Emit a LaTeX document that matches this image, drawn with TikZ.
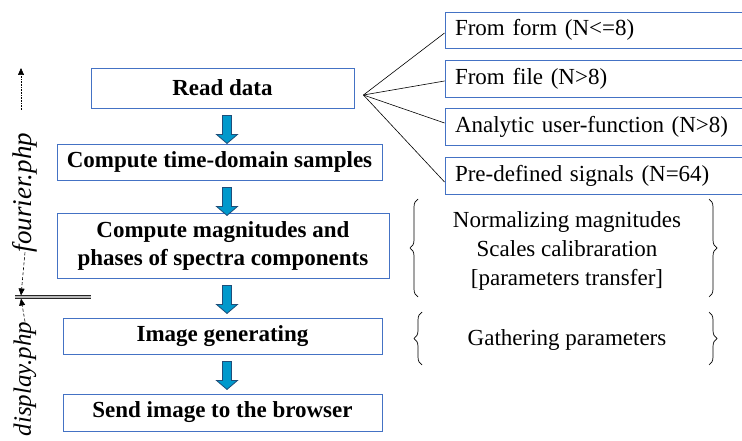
\documentclass[tikz,border=0pt]{standalone}
\usepackage{fontspec}
\setmainfont{Liberation Serif}
\usetikzlibrary{calc,arrows.meta,decorations.pathreplacing}
\definecolor{boxblue}{RGB}{68,114,196}
\definecolor{arrfill}{RGB}{0,153,204}
\definecolor{arrline}{RGB}{31,78,121}
\tikzset{
  stepbox/.style={draw=boxblue, line width=0.9pt, align=center, inner sep=0pt,
    font=\fontsize{23}{28}\selectfont\bfseries},
  srcbox/.style={draw=boxblue, line width=0.9pt, align=left, inner xsep=10pt, inner ysep=0pt,
    text width=280pt, minimum height=37pt, font=\fontsize{23}{28}\selectfont},
  plain/.style={align=center, inner sep=0pt, font=\fontsize{23}{29}\selectfont},
  sidelabel/.style={rotate=90, inner sep=0pt, font=\fontsize{27}{30}\selectfont\itshape},
  blockarr/.style={draw=arrline, fill=arrfill, line width=0.8pt, line join=miter},
  fan/.style={draw=black, line width=0.6pt},
  curly/.style={draw=black, line width=0.7pt, decorate,
    decoration={brace, amplitude=8pt}},
}
\newcommand{\blkarrow}[1]{%
  \draw[blockarr] let \p1=(#1.south) in
    (222.5pt,\y1-7pt) -- (231.5pt,\y1-7pt) -- (231.5pt,\y1-26pt) -- (237.5pt,\y1-26pt)
    -- (227pt,\y1-35pt) -- (216.5pt,\y1-26pt) -- (222.5pt,\y1-26pt) -- cycle;}
\begin{document}
\begin{tikzpicture}[x=1pt, y=-1pt]
\useasboundingbox (0,0) rectangle (742,441);
\clip (0,0) rectangle (742,441);

% left column steps
\node[stepbox, minimum width=263pt, minimum height=40pt] (b1) at (222.5,88) {Read data};
\node[stepbox, minimum width=325pt, minimum height=36pt] (b2) at (219.5,162) {Compute time-domain samples};
\node[stepbox, minimum width=332pt, minimum height=65pt] (b3) at (223,245.5) {Compute magnitudes and\\phases of spectra components};
\node[stepbox, minimum width=319pt, minimum height=36pt] (b4) at (222.5,336) {Image generating};
\node[stepbox, minimum width=319pt, minimum height=37pt] (b5) at (222.5,412.5) {Send image to the browser};

\blkarrow{b1}
\blkarrow{b2}
\blkarrow{b3}
\blkarrow{b4}

% data sources
\node[srcbox, minimum height=36pt] (f1) at (595,30) {From form (N<=8)};
\node[srcbox] (f2) at (595,78.5) {From file (N>8)};
\node[srcbox] (f3) at (595,126.5) {Analytic user-function (N>8)};
\node[srcbox] (f4) at (595,175.5) {Pre-defined signals (N=64)};

\coordinate (hub) at ($(b1.east)+(9,7)$);
\draw[fan] (hub) -- ([yshift=-3pt]f1.west);
\draw[fan] (hub) -- ([yshift=-2.5pt]f2.west);
\draw[fan] (hub) -- ([yshift=3.5pt]f3.west);
\draw[fan] (hub) -- ([yshift=-6.5pt]f4.west);

% notes with braces
\node[plain] (n1) at (567,251) {Normalizing magnitudes\\Scales calibraration\\{[parameters transfer]}};
\node[plain] (n2) at (567,340) {Gathering parameters};
\draw[curly] (418,297) -- (418,199);
\draw[curly] (709,199) -- (709,297);
\draw[curly] (422,365) -- (422,312);
\draw[curly] (709,312) -- (709,365);

% page split markers
\node[sidelabel] (fp) at (25,192.5) {fourier.php};
\node[sidelabel, font=\fontsize{25}{28}\selectfont\itshape] (dp) at (25,379) {display.php};
\coordinate (split) at (21,297);
\draw[line width=0.6pt, densely dotted, -{Triangle[length=7pt,width=6pt]}] (21,110) -- (21,68);
\draw[line width=0.6pt, dash pattern=on 3pt off 2pt, -{Triangle[length=7pt,width=6pt]}] (fp.west) -- ([yshift=1.5pt]split);
\draw[line width=0.6pt, dash pattern=on 3pt off 2pt, -{Triangle[length=7pt,width=6pt]}] (dp.east) -- ([yshift=-1.5pt]split);
\draw[draw=black!85, double=gray!55, line width=0.9pt, double distance=1.8pt] (15,297) -- (91,297);
\end{tikzpicture}
\end{document}
